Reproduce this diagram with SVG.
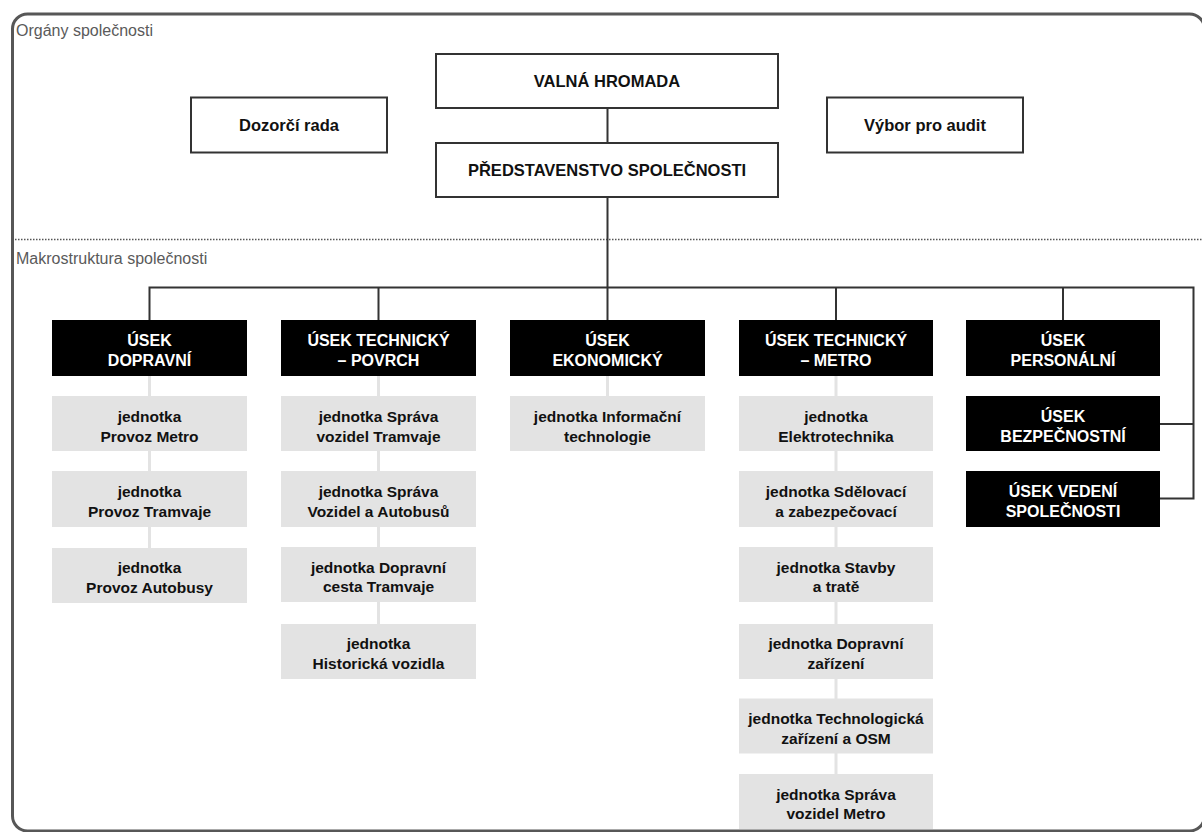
<svg xmlns="http://www.w3.org/2000/svg" width="1202" height="832" viewBox="0 0 1202 832">
  <style>
    .frame { fill: none; stroke: #575757; stroke-width: 3; }
    .divider { stroke: #555; stroke-width: 1.5; stroke-dasharray: 1.5 1.5; }
    .section { font-family: "Liberation Sans", Arial, sans-serif; font-size: 16px; fill: #5a5a5a; }
    .organ rect { fill: #fff; stroke: #333; stroke-width: 2; }
    .organ text { font-family: "Liberation Sans", Arial, sans-serif; font-weight: bold; font-size: 16.5px; fill: #111; text-anchor: middle; }
    .usek rect { fill: #000; }
    .usek text { font-family: "Liberation Sans", Arial, sans-serif; font-weight: bold; font-size: 16px; fill: #fff; text-anchor: middle; }
    .unit rect { fill: #e3e3e3; }
    .unit text { font-family: "Liberation Sans", Arial, sans-serif; font-weight: bold; font-size: 15.5px; fill: #111; text-anchor: middle; }
    .link { fill: none; stroke: #333; stroke-width: 2; }
    .sublink { fill: none; stroke: #e3e3e3; stroke-width: 3; }
  </style>

  <!-- outer frame and section divider -->
  <rect class="frame" x="12.5" y="14" width="1192" height="817" rx="15"/>
  <line class="divider" x1="15" y1="239.5" x2="1202" y2="239.5"/>
  <text class="section" x="16" y="36">Orgány společnosti</text>
  <text class="section" x="16" y="264">Makrostruktura společnosti</text>

  <!-- connectors -->
  <g id="connectors">
    <line class="sublink" x1="149.5" y1="376" x2="149.5" y2="548"/>
    <line class="sublink" x1="378.5" y1="376" x2="378.5" y2="624"/>
    <line class="sublink" x1="607.5" y1="376" x2="607.5" y2="396"/>
    <line class="sublink" x1="836" y1="376" x2="836" y2="774"/>
    <path class="link" d="M607.5 108 V143 M607.5 197 V287.5"/>
    <path class="link" d="M149.5 320 V287.5 H1193.5 V498.5 H1160 M1193.5 424 H1160"/>
    <path class="link" d="M378.5 287.5 V320 M607.5 287.5 V320 M836 287.5 V320 M1063 287.5 V320"/>
  </g>

  <!-- governing bodies -->
  <g id="valna-hromada" class="organ">
    <rect x="436" y="54" width="342" height="54"/>
    <text x="607" y="87">VALNÁ HROMADA</text>
  </g>
  <g id="predstavenstvo" class="organ">
    <rect x="436" y="143" width="342" height="54"/>
    <text x="607" y="176">PŘEDSTAVENSTVO SPOLEČNOSTI</text>
  </g>
  <g id="dozorci-rada" class="organ">
    <rect x="191" y="97.5" width="196" height="55"/>
    <text x="289" y="131">Dozorčí rada</text>
  </g>
  <g id="vybor-audit" class="organ">
    <rect x="827" y="97.5" width="196" height="55"/>
    <text x="925" y="131">Výbor pro audit</text>
  </g>

  <!-- divisions -->
  <g id="usek-dopravni" class="usek">
    <rect x="52" y="320" width="195" height="56"/>
    <text x="149.5" y="346">ÚSEK</text>
    <text x="149.5" y="366">DOPRAVNÍ</text>
  </g>
  <g id="usek-technicky-povrch" class="usek">
    <rect x="281" y="320" width="195" height="56"/>
    <text x="378.5" y="346">ÚSEK TECHNICKÝ</text>
    <text x="378.5" y="366">– POVRCH</text>
  </g>
  <g id="usek-ekonomicky" class="usek">
    <rect x="510" y="320" width="195" height="56"/>
    <text x="607.5" y="346">ÚSEK</text>
    <text x="607.5" y="366">EKONOMICKÝ</text>
  </g>
  <g id="usek-technicky-metro" class="usek">
    <rect x="739" y="320" width="194" height="56"/>
    <text x="836" y="346">ÚSEK TECHNICKÝ</text>
    <text x="836" y="366">– METRO</text>
  </g>
  <g id="usek-personalni" class="usek">
    <rect x="966" y="320" width="194" height="56"/>
    <text x="1063" y="346">ÚSEK</text>
    <text x="1063" y="366">PERSONÁLNÍ</text>
  </g>
  <g id="usek-bezpecnostni" class="usek">
    <rect x="966" y="396" width="194" height="55"/>
    <text x="1063" y="422">ÚSEK</text>
    <text x="1063" y="442">BEZPEČNOSTNÍ</text>
  </g>
  <g id="usek-vedeni" class="usek">
    <rect x="966" y="471" width="194" height="56"/>
    <text x="1063" y="497">ÚSEK VEDENÍ</text>
    <text x="1063" y="517">SPOLEČNOSTI</text>
  </g>

  <!-- units: dopravní -->
  <g id="provoz-metro" class="unit">
    <rect x="52" y="396" width="195" height="55"/>
    <text x="149.5" y="422">jednotka</text>
    <text x="149.5" y="441.5">Provoz Metro</text>
  </g>
  <g id="provoz-tramvaje" class="unit">
    <rect x="52" y="471" width="195" height="56"/>
    <text x="149.5" y="497">jednotka</text>
    <text x="149.5" y="516.5">Provoz Tramvaje</text>
  </g>
  <g id="provoz-autobusy" class="unit">
    <rect x="52" y="548" width="195" height="55"/>
    <text x="149.5" y="573">jednotka</text>
    <text x="149.5" y="592.5">Provoz Autobusy</text>
  </g>

  <!-- units: technický – povrch -->
  <g id="sprava-vozidel-tramvaje" class="unit">
    <rect x="281" y="396" width="195" height="55"/>
    <text x="378.5" y="422">jednotka Správa</text>
    <text x="378.5" y="441.5">vozidel Tramvaje</text>
  </g>
  <g id="sprava-vozidel-autobusu" class="unit">
    <rect x="281" y="471" width="195" height="56"/>
    <text x="378.5" y="497">jednotka Správa</text>
    <text x="378.5" y="516.5">Vozidel a Autobusů</text>
  </g>
  <g id="dopravni-cesta" class="unit">
    <rect x="281" y="547" width="195" height="55"/>
    <text x="378.5" y="572.5">jednotka Dopravní</text>
    <text x="378.5" y="592">cesta Tramvaje</text>
  </g>
  <g id="historicka-vozidla" class="unit">
    <rect x="281" y="624" width="195" height="55"/>
    <text x="378.5" y="649">jednotka</text>
    <text x="378.5" y="668.5">Historická vozidla</text>
  </g>

  <!-- units: ekonomický -->
  <g id="informacni-technologie" class="unit">
    <rect x="510" y="396" width="195" height="55"/>
    <text x="607.5" y="422">jednotka Informační</text>
    <text x="607.5" y="441.5">technologie</text>
  </g>

  <!-- units: technický – metro -->
  <g id="elektrotechnika" class="unit">
    <rect x="739" y="396" width="194" height="55"/>
    <text x="836" y="422">jednotka</text>
    <text x="836" y="441.5">Elektrotechnika</text>
  </g>
  <g id="sdelovaci" class="unit">
    <rect x="739" y="471" width="194" height="56"/>
    <text x="836" y="497">jednotka Sdělovací</text>
    <text x="836" y="516.5">a zabezpečovací</text>
  </g>
  <g id="stavby-trate" class="unit">
    <rect x="739" y="547" width="194" height="55"/>
    <text x="836" y="572.5">jednotka Stavby</text>
    <text x="836" y="592">a tratě</text>
  </g>
  <g id="dopravni-zarizeni" class="unit">
    <rect x="739" y="624" width="194" height="55"/>
    <text x="836" y="649">jednotka Dopravní</text>
    <text x="836" y="668.5">zařízení</text>
  </g>
  <g id="technologicka-zarizeni" class="unit">
    <rect x="739" y="698.5" width="194" height="55"/>
    <text x="836" y="724">jednotka Technologická</text>
    <text x="836" y="743.5">zařízení a OSM</text>
  </g>
  <g id="sprava-vozidel-metro" class="unit">
    <rect x="739" y="774" width="194" height="55"/>
    <text x="836" y="799.5">jednotka Správa</text>
    <text x="836" y="819">vozidel Metro</text>
  </g>
</svg>
